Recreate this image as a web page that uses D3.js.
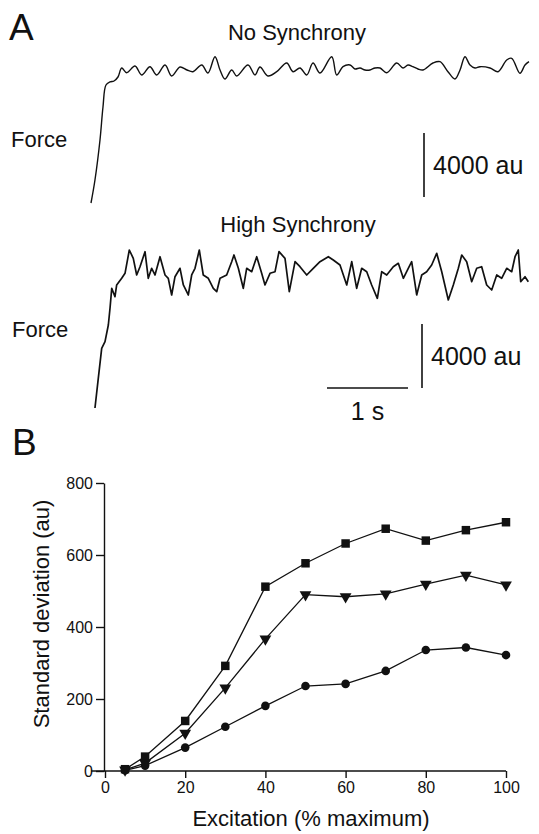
<!DOCTYPE html>
<html lang="en">
<head>
    <meta charset="UTF-8">
    <title>Force variability and synchrony</title>
    <script src="https://d3js.org/d3.v7.min.js"></script>
    <style>
        body { margin: 0; background: #fff; }
        text { font-family: "Liberation Sans", Arial, sans-serif; fill: #111; }
    </style>
</head>
<body>
<script>
    const width  = 539;
    const height = 834;

    // Panel A traces: time (s) and force (au)
    const noSyncTime  = [0, 0.049, 0.111, 0.148, 0.185, 0.235, 0.284, 0.333, 0.379, 0.441, 0.543, 0.626, 0.728, 0.811,
                         0.914, 0.996, 1.099, 1.185, 1.259, 1.367, 1.444, 1.531, 1.593, 1.654, 1.737, 1.799, 1.938, 2.025,
                         2.086, 2.185, 2.293, 2.416, 2.494, 2.580, 2.663, 2.741, 2.827, 2.972, 3.033, 3.111, 3.198, 3.259,
                         3.321, 3.383, 3.444, 3.506, 3.568, 3.651, 3.774, 3.852, 3.914, 3.975, 4.037, 4.099, 4.222, 4.309,
                         4.407, 4.494, 4.556, 4.617, 4.679, 4.741, 4.802, 4.926, 5.025, 5.132, 5.194, 5.296, 5.358, 5.407];
    const noSyncForce = [0, 1438, 3938, 6000, 7375, 7563, 7625, 7875, 8438, 8144, 8563, 8000, 8519, 8000,
                         8625, 7938, 8500, 8313, 8206, 8625, 8125, 9144, 8313, 7750, 8313, 7938, 8625, 8000,
                         8500, 7938, 8206, 8750, 8206, 8438, 8000, 8750, 8125, 9144, 8000, 8519, 8625, 8375,
                         8438, 8313, 8313, 8438, 8438, 8144, 8750, 8438, 8625, 8519, 8375, 8313, 8750, 8831,
                         8206, 7750, 8313, 9144, 8625, 8438, 8519, 8438, 8206, 8938, 9044, 8106, 8625, 8831];

    const highSyncTime  = [0.049, 0.090, 0.132, 0.173, 0.214, 0.235, 0.256, 0.296, 0.317, 0.379, 0.420, 0.473, 0.522,
                           0.564, 0.605, 0.667, 0.707, 0.749, 0.790, 0.852, 0.914, 0.954, 0.996, 1.037, 1.099, 1.140,
                           1.201, 1.243, 1.284, 1.337, 1.386, 1.448, 1.510, 1.552, 1.593, 1.675, 1.737, 1.765, 1.819,
                           1.880, 1.922, 1.984, 2.046, 2.107, 2.148, 2.210, 2.272, 2.321, 2.395, 2.448, 2.519, 2.580,
                           2.663, 2.744, 2.827, 2.930, 2.991, 3.074, 3.157, 3.219, 3.280, 3.342, 3.404, 3.465, 3.535,
                           3.589, 3.651, 3.732, 3.794, 3.856, 3.917, 3.959, 4.021, 4.083, 4.144, 4.206, 4.268, 4.330,
                           4.411, 4.473, 4.535, 4.577, 4.638, 4.700, 4.762, 4.823, 4.885, 4.947, 5.009, 5.070, 5.132,
                           5.194, 5.235, 5.275, 5.305, 5.358, 5.399];
    const highSyncForce = [0, 1856, 3731, 4144, 5188, 6250, 7481, 6956, 7688, 8106, 8419, 9875, 9356,
                           8313, 8831, 9769, 8106, 8731, 8313, 9456, 8313, 8106, 7063, 8206, 8731, 7688,
                           7063, 8313, 8731, 9875, 8313, 8106, 7481, 7269, 8106, 8313, 9144, 9563, 8731,
                           7481, 8731, 8519, 9456, 8419, 7688, 8419, 8519, 9769, 9356, 7269, 9144, 8831,
                           8313, 8731, 9144, 9456, 9250, 8938, 7688, 9144, 7481, 8731, 8519, 7688, 6856,
                           8519, 8313, 8831, 9044, 8106, 8731, 9144, 7063, 8313, 8519, 8938, 9669, 8519,
                           6750, 7688, 8731, 9563, 9144, 7894, 8731, 8831, 7688, 7375, 8313, 8106, 8731,
                           8519, 9456, 9875, 7894, 8206, 7894];

    // Panel B: standard deviation of force vs excitation
    const excitation = [5, 10, 20, 30, 40, 50, 60, 70, 80, 90, 100];
    const sdSquare   = [5, 40, 139, 292, 512, 577, 632, 673, 640, 669, 691];
    const sdTriangle = [3, 22, 105, 231, 367, 490, 484, 492, 519, 544, 517];
    const sdCircle   = [2, 15, 65, 123, 181, 236, 242, 278, 336, 343, 322];
    const xTicks = [0, 20, 40, 60, 80, 100];
    const yTicks = [0, 200, 400, 600, 800];

    const svg = d3.select("body")
            .append("svg")
            .attr("width", width)
            .attr("height", height);

    // ---------- panel A ----------
    const xTime = d3.scaleLinear().domain([0, 5.5]).range([91, 91 + 5.5 * 81]);
    const yTop  = d3.scaleLinear().domain([0, 4000]).range([203, 139]);
    const yBot  = d3.scaleLinear().domain([0, 4000]).range([408, 344]);

    const zip = (t, f) => t.map((d, i) => [d, f[i]]);

    svg.append("path")
            .datum(zip(noSyncTime, noSyncForce))
            .attr("d", d3.line().curve(d3.curveCatmullRom).x(d => xTime(d[0])).y(d => yTop(d[1])))
            .style("fill", "none")
            .style("stroke", "#111")
            .style("stroke-width", 1.4)
            .style("stroke-linejoin", "round");

    svg.append("path")
            .datum(zip(highSyncTime, highSyncForce))
            .attr("d", d3.line().x(d => xTime(d[0])).y(d => yBot(d[1])))
            .style("fill", "none")
            .style("stroke", "#111")
            .style("stroke-width", 1.7)
            .style("stroke-linejoin", "round");

    svg.append("text").attr("x", 9).attr("y", 40).style("font-size", "37px").text("A");
    svg.append("text").attr("x", 297).attr("y", 40).attr("text-anchor", "middle")
            .style("font-size", "22px").text("No Synchrony");
    svg.append("text").attr("x", 298).attr("y", 232).attr("text-anchor", "middle")
            .style("font-size", "22px").text("High Synchrony");
    svg.append("text").attr("x", 11).attr("y", 147).style("font-size", "22px").text("Force");
    svg.append("text").attr("x", 12).attr("y", 337).style("font-size", "22px").text("Force");

    // scale bars
    const barLen = yTop(0) - yTop(4000);
    const secLen = xTime(1) - xTime(0);
    const bars = [{x: 424, y: 133}, {x: 422, y: 324}];
    bars.forEach(b => {
        svg.append("line")
                .attr("x1", b.x).attr("x2", b.x)
                .attr("y1", b.y).attr("y2", b.y + barLen)
                .style("stroke", "#111").style("stroke-width", 1.6);
        svg.append("text")
                .attr("x", b.x + 9).attr("y", b.y + barLen / 2 + 9)
                .style("font-size", "25px").text("4000 au");
    });
    svg.append("line")
            .attr("x1", 327).attr("x2", 327 + secLen)
            .attr("y1", 388).attr("y2", 388)
            .style("stroke", "#111").style("stroke-width", 1.6);
    svg.append("text").attr("x", 327 + secLen / 2).attr("y", 420).attr("text-anchor", "middle")
            .style("font-size", "25px").text("1 s");

    // ---------- panel B ----------
    const x = d3.scaleLinear().domain([0, 100]).range([105, 506]);
    const y = d3.scaleLinear().domain([0, 800]).range([771, 483]);

    svg.append("text").attr("x", 12).attr("y", 455).style("font-size", "37px").text("B");

    const gx = svg.append("g")
            .attr("transform", "translate(0," + y(0) + ")")
            .call(d3.axisBottom(x).tickValues(xTicks).tickSize(7).tickPadding(4).tickSizeOuter(0));
    const gy = svg.append("g")
            .attr("transform", "translate(" + (x(0) - 1) + ",0)")
            .call(d3.axisLeft(y).tickValues(yTicks).tickSize(8).tickPadding(3).tickSizeOuter(0));

    [gx, gy].forEach(g => {
        g.select(".domain").style("stroke", "#111").style("stroke-width", 1.4);
        g.selectAll(".tick line").style("stroke", "#111").style("stroke-width", 1.4);
        g.selectAll(".tick text").style("font-size", "16px").style("font-family", "\"Liberation Sans\", Arial, sans-serif").style("fill", "#111");
    });
    gx.select(".domain").attr("d", "M" + (x(0) - 14) + ",0H" + x(100));

    svg.append("text")
            .attr("x", 311).attr("y", 826)
            .attr("text-anchor", "middle")
            .style("font-size", "22px")
            .text("Excitation (% maximum)");
    svg.append("text")
            .attr("transform", "translate(49," + 614 + ") rotate(-90)")
            .attr("text-anchor", "middle")
            .style("font-size", "22px")
            .text("Standard deviation (au)");

    const series = [
        {values: sdSquare,   symbol: d3.symbolSquare,   size: 72, rotate: 0},
        {values: sdTriangle, symbol: d3.symbolTriangle, size: 60, rotate: 180},
        {values: sdCircle,   symbol: d3.symbolCircle,   size: 58, rotate: 0}
    ];

    const line = d3.line().x(d => x(d[0])).y(d => y(d[1]));

    series.forEach(s => {
        const pts = zip(excitation, s.values);
        svg.append("path")
                .datum(pts)
                .attr("d", line)
                .style("fill", "none")
                .style("stroke", "#111")
                .style("stroke-width", 1.3);
        svg.append("g")
                .selectAll("path")
                .data(pts)
                .join("path")
                .attr("transform", d => "translate(" + x(d[0]) + "," + y(d[1]) + ") rotate(" + s.rotate + ")")
                .attr("d", d3.symbol().type(s.symbol).size(s.size))
                .style("fill", "#111");
    });
</script>
</body>
</html>
